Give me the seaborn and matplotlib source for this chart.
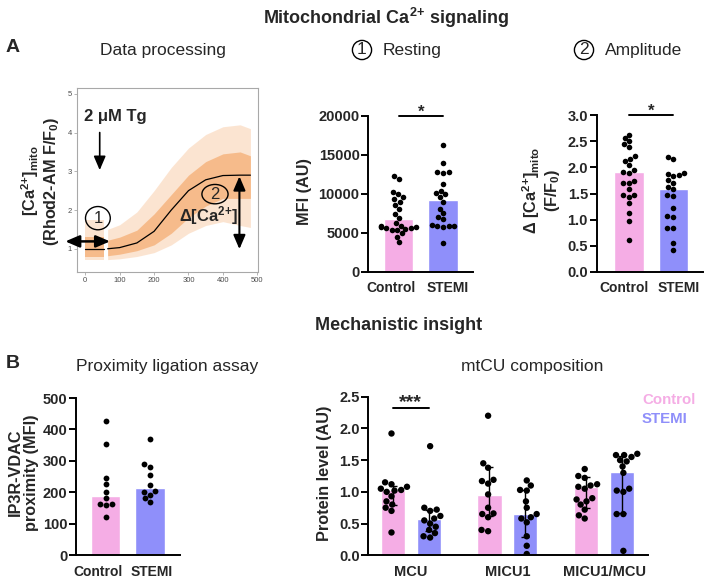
import numpy as np
import pandas as pd
import matplotlib
matplotlib.use('Agg')
import matplotlib.pyplot as plt
import seaborn as sns
from matplotlib.patches import Ellipse
from matplotlib.ticker import FormatStrFormatter
from matplotlib.transforms import ScaledTranslation

# ---------------- data ----------------
groups = ['Control', 'STEMI']

# A1 - data processing illustration (cloud envelopes and fitted curve)
seg1_x = [0, 55]
seg1_outer_lo = [0.72, 0.72]
seg1_outer_hi = [1.75, 1.75]
seg1_inner_lo = [0.80, 0.80]
seg1_inner_hi = [1.30, 1.30]
seg2_x = [65, 100, 150, 200, 250, 300, 350, 400, 450, 480]
seg2_outer_lo = [0.72, 0.74, 0.80, 0.90, 1.10, 1.40, 1.60, 1.70, 1.60, 1.55]
seg2_outer_hi = [1.50, 1.62, 1.95, 2.50, 3.10, 3.60, 3.95, 4.15, 4.20, 4.10]
seg2_inner_lo = [0.82, 0.86, 0.95, 1.10, 1.40, 1.80, 2.10, 2.30, 2.30, 2.30]
seg2_inner_hi = [1.22, 1.30, 1.48, 1.90, 2.40, 2.90, 3.25, 3.45, 3.50, 3.40]
curve1_x = [0, 55]
curve1_y = [1.0, 1.0]
curve2_x = [65, 100, 150, 200, 250, 300, 350, 400, 450, 480]
curve2_y = [1.0, 1.03, 1.15, 1.45, 2.0, 2.5, 2.78, 2.89, 2.90, 2.90]

# A2 - resting
resting_bar = [6800, 9150]
resting_control = [12300, 11900, 10200, 9900, 9600, 9300, 9000, 8600, 8000, 7400, 6900, 6300,
                   5900, 5800, 5700, 5700, 5600, 5600, 5500, 5400, 5300, 4900, 4500, 3800]
resting_stemi = [16200, 13900, 12800, 12700, 12800, 11300, 10400, 10100, 9900, 9600, 9000,
                 8100, 7500, 7000, 6700, 6000, 5900, 5800, 5700, 5900, 3700]

# A3 - amplitude
amp_bar = [1.92, 1.58]
amp_control = [2.63, 2.57, 2.50, 2.44, 2.39, 2.22, 2.17, 2.12, 2.05, 1.96, 1.92, 1.90,
               1.74, 1.71, 1.70, 1.59, 1.48, 1.47, 1.44, 1.31, 1.13, 0.97, 0.61]
amp_stemi = [2.20, 2.16, 1.90, 1.88, 1.85, 1.83, 1.75, 1.70, 1.62, 1.58, 1.47, 1.45,
             1.22, 1.07, 1.05, 0.84, 0.84, 0.55, 0.42]

# B1 - proximity ligation assay
pla_bar = [190, 214]
pla_control = [427, 355, 245, 226, 202, 181, 163, 160, 162, 121]
pla_stemi = [369, 290, 282, 255, 222, 203, 200, 192, 181, 170]

# B2 - mtCU composition
cu_targets = ['MCU', 'MICU1', 'MICU1/MCU']
mcu_control = [1.92, 1.15, 1.12, 1.08, 1.05, 1.03, 1.02, 1.00, 0.93, 0.85, 0.80, 0.75, 0.70, 0.36]
mcu_stemi = [1.72, 0.75, 0.72, 0.70, 0.62, 0.58, 0.55, 0.50, 0.45, 0.40, 0.35, 0.30, 0.28]
micu1_control = [2.20, 1.45, 1.38, 1.19, 1.17, 1.13, 0.96, 0.75, 0.66, 0.65, 0.60, 0.40, 0.38]
micu1_stemi = [1.18, 1.10, 1.03, 1.02, 0.85, 0.75, 0.65, 0.60, 0.58, 0.52, 0.30, 0.15, 0.02]
ratio_control = [1.36, 1.25, 1.22, 1.12, 1.10, 1.08, 1.05, 0.90, 0.88, 0.85, 0.80, 0.72, 0.63, 0.58]
ratio_stemi = [1.60, 1.58, 1.58, 1.55, 1.50, 1.48, 1.40, 1.30, 1.05, 1.02, 1.00, 0.65, 0.65, 0.07]
cu_bar_control = [1.03, 0.95, 1.08]
cu_bar_stemi = [0.57, 0.65, 1.31]
cu_q1_control = [0.79, 0.62, 0.74]
cu_q3_control = [1.10, 1.39, 1.23]
cu_q1_stemi = [0.38, 0.29, 0.66]
cu_q3_stemi = [0.71, 1.03, 1.56]

# ---------------- style ----------------
sns.set_theme(style='ticks')
plt.rcParams['font.family'] = ['Liberation Sans', 'DejaVu Sans']
plt.rcParams['font.weight'] = 'bold'
plt.rcParams['mathtext.fontset'] = 'custom'
plt.rcParams['mathtext.rm'] = 'Liberation Sans'
plt.rcParams['mathtext.bf'] = 'Liberation Sans:bold'
plt.rcParams['mathtext.it'] = 'Liberation Sans:italic'
plt.rcParams['axes.linewidth'] = 1.4
plt.rcParams['axes.edgecolor'] = 'black'

PINK = '#F5ADE5'
BLUE = '#8F8FFA'
ORANGE = '#F4A15D'
pal = {'Control': PINK, 'STEMI': BLUE}

W, H = 705, 578
fig = plt.figure(figsize=(W / 100, H / 100), dpi=100)


def add_ax(l, b, r, t):
    return fig.add_axes([l / W, 1 - b / H, (r - l) / W, (b - t) / H])


def ftext(x, y, s, **kw):
    return fig.text(x / W, 1 - y / H, s, **kw)


def style_bar_ax(ax, yticks, fmt, xlim, ylim, label_shift=None):
    sns.despine(ax=ax)
    ax.set_xlim(*xlim)
    ax.set_ylim(*ylim)
    ax.set_yticks(yticks)
    ax.yaxis.set_major_formatter(FormatStrFormatter(fmt))
    ax.tick_params(axis='y', length=4.8, width=1.4, pad=1.5, labelsize=10.5, color='black')
    ax.tick_params(axis='x', length=0, pad=7, labelsize=10)
    ax.set_xlabel('')
    ax.set_ylabel('')
    for lab in ax.get_xticklabels() + ax.get_yticklabels():
        lab.set_fontweight('bold')
    if label_shift is not None:
        for lab, dx in zip(ax.get_xticklabels(), label_shift):
            lab.set_transform(lab.get_transform() + ScaledTranslation(dx / 100, 0, fig.dpi_scale_trans))


def two_group_panel(ax, bars, ctrl, stemi, size):
    sns.barplot(x=groups, y=bars, hue=groups, palette=pal, width=0.66, saturation=1,
                errorbar=None, legend=False, ax=ax)
    df = pd.DataFrame({'group': ['Control'] * len(ctrl) + ['STEMI'] * len(stemi),
                       'value': list(ctrl) + list(stemi)})
    sns.swarmplot(data=df, x='group', y='value', order=groups, color='black', size=size, ax=ax)


# ---------------- A1: data processing ----------------
ax1 = add_ax(77, 272, 258, 88)
ax1.fill_between(seg1_x, seg1_outer_lo, seg1_outer_hi, color=ORANGE, alpha=0.28, lw=0)
ax1.fill_between(seg1_x, seg1_inner_lo, seg1_inner_hi, color=ORANGE, alpha=0.6, lw=0)
ax1.fill_between(seg2_x, seg2_outer_lo, seg2_outer_hi, color=ORANGE, alpha=0.28, lw=0)
ax1.fill_between(seg2_x, seg2_inner_lo, seg2_inner_hi, color=ORANGE, alpha=0.6, lw=0)
sns.lineplot(x=curve1_x, y=curve1_y, color='black', lw=0.9, ax=ax1)
sns.lineplot(x=curve2_x, y=curve2_y, color='black', lw=0.9, ax=ax1)
ax1.set_xlim(-24, 502)
ax1.set_ylim(0.4, 5.15)
ax1.set_xticks([0, 100, 200, 300, 400, 500])
ax1.set_yticks([1, 2, 3, 4, 5])
ax1.set_xlabel('')
ax1.set_ylabel('')
for sp in ax1.spines.values():
    sp.set_color('#A8A8A8')
    sp.set_linewidth(0.8)
ax1.tick_params(labelsize=5.5, labelcolor='#4D4D4D', length=2, width=0.6, color='#A8A8A8', pad=1.5)
for lab in ax1.get_xticklabels() + ax1.get_yticklabels():
    lab.set_fontweight('normal')

ax1.text(87, 4.42, '2 μM Tg', ha='center', va='center', fontsize=12, fontweight='bold')
ax1.annotate('', xy=(42, 3.03), xytext=(42, 4.0),
             arrowprops=dict(arrowstyle='-|>,head_length=0.7,head_width=0.3', color='black',
                             lw=1.2, shrinkA=0, shrinkB=0))
ax1.annotate('', xy=(-58, 1.19), xytext=(72, 1.19), annotation_clip=False,
             arrowprops=dict(arrowstyle='<|-|>,head_length=0.7,head_width=0.3', color='black',
                             lw=1.8, shrinkA=0, shrinkB=0, clip_on=False))
ax1.annotate('', xy=(448, 0.99), xytext=(448, 2.87),
             arrowprops=dict(arrowstyle='<|-|>,head_length=0.7,head_width=0.3', color='black',
                             lw=1.5, shrinkA=0, shrinkB=0))
ax1.add_patch(Ellipse((36.7, 1.79), 72, 0.6, fill=False, ec='black', lw=1.0))
ax1.text(36.7, 1.77, '1', ha='center', va='center', fontsize=12, fontweight='normal')
ax1.add_patch(Ellipse((377, 2.41), 76, 0.5, fill=False, ec='black', lw=1.0))
ax1.text(377, 2.39, '2', ha='center', va='center', fontsize=12, fontweight='normal')
ax1.text(358, 1.86, r'$\mathbf{\Delta[Ca^{2{+}}]}$', ha='center', va='center', fontsize=12)

# ---------------- A2: resting ----------------
ax2 = add_ax(368.3, 271.7, 473, 115.7)
two_group_panel(ax2, resting_bar, resting_control, resting_stemi, 4.0)
style_bar_ax(ax2, [0, 5000, 10000, 15000, 20000], '%d', (-0.68, 1.674), (0, 20000), (-8, 4.5))
ax2.plot([0, 1], [20000, 20000], color='black', lw=1.4, clip_on=False)
ax2.annotate('*', xy=(0.5, 20000), xytext=(0, -0.5), textcoords='offset points',
             ha='center', va='baseline', fontsize=12, fontweight='bold', annotation_clip=False)

# ---------------- A3: amplitude ----------------
ax3 = add_ax(596.7, 271.7, 703, 115.3)
two_group_panel(ax3, amp_bar, amp_control, amp_stemi, 4.0)
style_bar_ax(ax3, [0, 0.5, 1.0, 1.5, 2.0, 2.5, 3.0], '%.1f', (-0.734, 1.68), (0, 3.0), (-5, 6))
ax3.plot([0, 1], [3.0, 3.0], color='black', lw=1.4, clip_on=False)
ax3.annotate('*', xy=(0.5, 3.0), xytext=(0, -0.5), textcoords='offset points',
             ha='center', va='baseline', fontsize=12, fontweight='bold', annotation_clip=False)

# ---------------- B1: PLA ----------------
ax4 = add_ax(76, 555.3, 180, 398)
two_group_panel(ax4, pla_bar, pla_control, pla_stemi, 4.2)
style_bar_ax(ax4, [0, 100, 200, 300, 400, 500], '%d', (-0.67, 1.677), (0, 500), (-8, 2))

# ---------------- B2: mtCU composition ----------------
ax5 = add_ax(368.3, 555.3, 648, 396.7)
bar_df = pd.DataFrame({'target': cu_targets * 2,
                       'group': ['Control'] * 3 + ['STEMI'] * 3,
                       'value': cu_bar_control + cu_bar_stemi})
sns.barplot(data=bar_df, x='target', y='value', hue='group', order=cu_targets, hue_order=groups,
            palette=pal, width=0.745, gap=0.329, saturation=1, errorbar=None, legend=False, ax=ax5)

patches = sorted(ax5.patches, key=lambda p: p.get_x())
centers = [p.get_x() + p.get_width() / 2 for p in patches]
heights = []
lows = []
highs = []
for i in range(3):
    heights += [cu_bar_control[i], cu_bar_stemi[i]]
    lows += [cu_q1_control[i], cu_q1_stemi[i]]
    highs += [cu_q3_control[i], cu_q3_stemi[i]]
heights = np.array(heights)
ax5.errorbar(centers, heights, yerr=[heights - np.array(lows), np.array(highs) - heights],
             fmt='none', ecolor='black', elinewidth=1.0, capsize=3, capthick=1.0, zorder=2.5)

pts = []
for tgt, c_vals, s_vals in zip(cu_targets, [mcu_control, micu1_control, ratio_control],
                               [mcu_stemi, micu1_stemi, ratio_stemi]):
    pts += [(tgt, 'Control', v) for v in c_vals]
    pts += [(tgt, 'STEMI', v) for v in s_vals]
pts_df = pd.DataFrame(pts, columns=['target', 'group', 'value'])
sns.swarmplot(data=pts_df, x='target', y='value', hue='group', order=cu_targets, hue_order=groups,
              dodge=True, palette={'Control': 'black', 'STEMI': 'black'}, size=4.6, legend=False, ax=ax5)
for coll in ax5.collections:
    if isinstance(coll, matplotlib.collections.PathCollection):
        coll.set_zorder(3)
style_bar_ax(ax5, [0, 0.5, 1.0, 1.5, 2.0, 2.5], '%.1f', (-0.44, 2.455), (0, 2.5))
ax5.tick_params(axis='x', labelsize=10.5)
ax5.plot([centers[0], centers[1]], [2.32, 2.32], color='black', lw=1.4, clip_on=False)
ax5.annotate('***', xy=((centers[0] + centers[1]) / 2, 2.32), xytext=(0, 1),
             textcoords='offset points', ha='center', va='baseline', fontsize=14,
             fontweight='bold', annotation_clip=False)

# legend as coloured text
ftext(642, 400, 'Control', color=PINK, fontsize=10.8, fontweight='bold', ha='left', va='center')
ftext(642, 419, 'STEMI', color=BLUE, fontsize=10.8, fontweight='bold', ha='left', va='center')

# ---------------- titles and labels ----------------
ftext(386, 18, r'Mitochondrial $\mathbf{Ca^{2{+}}}$ signaling', ha='center', va='center',
      fontsize=13, fontweight='bold')
ftext(13, 48, 'A', ha='center', va='center', fontsize=14, fontweight='bold')
ftext(163, 50, 'Data processing', ha='center', va='center', fontsize=12.5, fontweight='normal')
ftext(362, 50, '1', ha='center', va='center', fontsize=12.5, fontweight='normal',
      bbox=dict(boxstyle='circle,pad=0.12', fc='none', ec='black', lw=1.0))
ftext(383, 50, 'Resting', ha='left', va='center', fontsize=12.5, fontweight='normal')
ftext(584, 50, '2', ha='center', va='center', fontsize=12.5, fontweight='normal',
      bbox=dict(boxstyle='circle,pad=0.12', fc='none', ec='black', lw=1.0))
ftext(605, 50, 'Amplitude', ha='left', va='center', fontsize=12.5, fontweight='normal')

ftext(399, 325, 'Mechanistic insight', ha='center', va='center', fontsize=13, fontweight='bold')
ftext(13, 363, 'B', ha='center', va='center', fontsize=14, fontweight='bold')
ftext(167.5, 366.7, 'Proximity ligation assay', ha='center', va='center', fontsize=12.5,
      fontweight='normal')
ftext(531.7, 366.7, 'mtCU composition', ha='center', va='center', fontsize=12.5,
      fontweight='normal')

ftext(40, 181, r'$\mathbf{[Ca^{2{+}}]_{mito}}$' + '\n' + r'(Rhod2-AM F/F$_{\mathbf{0}}$)',
      rotation=90, ha='center', va='center', fontsize=11.7, fontweight='bold',
      multialignment='center', linespacing=1.1)
ftext(305, 192, 'MFI (AU)', rotation=90, ha='center', va='center', fontsize=11.7,
      fontweight='bold')
ftext(541, 190, r'$\mathbf{\Delta\ [Ca^{2{+}}]_{mito}}$' + '\n' + r'(F/F$_{\mathbf{0}}$)',
      rotation=90, ha='center', va='center', fontsize=11.7, fontweight='bold',
      multialignment='center', linespacing=1.1)
ftext(23, 472.5, 'IP3R-VDAC\nproximity (MFI)', rotation=90, ha='center', va='center',
      fontsize=11.7, fontweight='bold', multialignment='center', linespacing=1.1)
ftext(325, 473, 'Protein level (AU)', rotation=90, ha='center', va='center', fontsize=11.7,
      fontweight='bold')

fig.savefig('out.png', dpi=100)
